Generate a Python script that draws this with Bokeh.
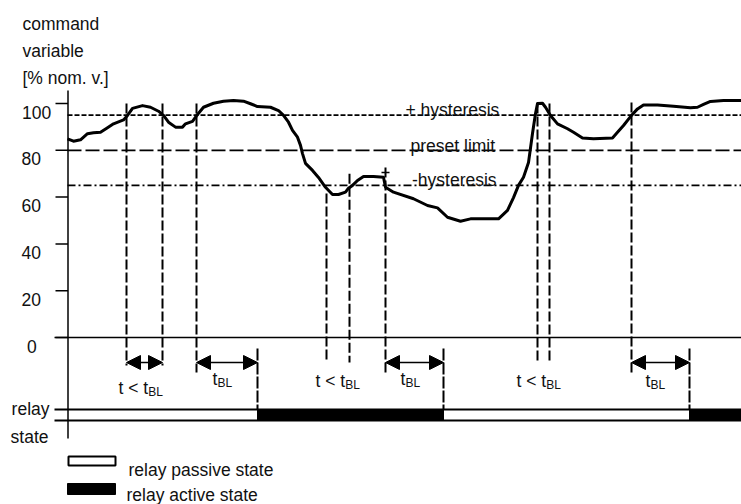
from bokeh.plotting import figure
from bokeh.models import Range1d, Arrow, NormalHead
from bokeh.core.properties import value
from bokeh.embed import file_html
from bokeh.resources import INLINE

# ---------------- data ----------------
time = [0, 6, 13, 20, 26, 33, 40, 46, 56, 60, 65, 75, 83, 91, 96, 101, 108, 115, 118, 125,
        130, 136, 146, 156, 166, 176, 183, 190, 203, 211, 216, 221, 225, 230, 233, 235, 238,
        245, 251, 258, 265, 271, 278, 281, 285, 290, 296, 306, 316, 318, 326, 346, 360, 370,
        380, 393, 403, 416, 431, 440, 446, 451, 456, 461, 465, 468, 470, 475, 478, 483, 490,
        500, 506, 515, 526, 545, 550, 556, 563, 570, 576, 590, 606, 623, 630, 636, 643, 656, 674]
command = [84.9, 83.9, 84.5, 87.1, 87.5, 87.7, 89.6, 91.3, 93.0, 94.9, 97.9, 99.1, 98.4, 96.7,
           94.9, 92.0, 89.9, 89.9, 91.3, 92.4, 95.3, 98.4, 100.1, 101.0, 101.3, 101.0, 99.9,
           98.7, 98.4, 97.0, 94.9, 92.0, 88.5, 85.6, 82.1, 78.6, 74.4, 71.4, 68.4, 64.2, 61.1,
           61.1, 62.1, 63.8, 65.0, 67.1, 68.8, 68.8, 68.5, 64.2, 62.1, 59.3, 56.4, 55.4, 51.4,
           49.7, 50.7, 50.7, 50.7, 54.3, 59.8, 65.0, 68.5, 74.8, 87.2, 95.7, 100.0, 100.1, 98.4,
           94.9, 91.3, 89.2, 87.7, 85.3, 84.9, 85.3, 87.7, 90.6, 94.4, 97.7, 99.4, 99.4, 98.8,
           98.2, 98.4, 99.6, 100.9, 101.3, 101.3]

plus_hysteresis = 95
preset_limit = 80
minus_hysteresis = 65
y_ticks = [0, 20, 40, 60, 80, 100]
y_tick_labels = ["0", "20", "40", "60", "80", "100"]

# threshold crossings (vertical marker lines)
event_t = [59, 95, 129, 259, 282, 318, 470, 482, 564]
event_top = [100, 100, 100, 61.5, 70, 72.6, 100, 100, 100.4]
event_bottom = [-12, -12, -15, -9.8, -10.7, -15.4, -10.7, -10.7, -15]

# relay switching times and states (0 = passive, 1 = active)
relay_t = [0, 190, 376, 622, 674]
relay_state = [0, 1, 0, 1]

# blocking-time intervals with arrows
arrow_start = [59, 129, 318, 564]
arrow_end = [95, 190, 376, 622]

# interval labels
int_label_main = ["t < t", "t", "t < t", "t", "t < t", "t"]
int_label_sub = ["BL", "BL", "BL", "BL", "BL", "BL"]
int_label_x = [51, 145, 248, 333, 449, 578]

# ---------------- layout helpers (canvas px -> data) ----------------
W, H = 741, 504
X0, Y0, K = 67.0, 337.0, 2.34
def tx(px):
    return px - X0
def vy(py):
    return (Y0 - py) / K

FONT = value("Liberation Sans")
FS = "17.5px"
SUB = "12px"
TXT = "#111111"
INK = "#000000"

p = figure(width=W, height=H, output_backend="svg", toolbar_location=None,
           x_range=Range1d(tx(0), tx(W)), y_range=Range1d(vy(H), vy(0)),
           x_axis_location=None, y_axis_location=None,
           min_border_left=0, min_border_right=0, min_border_top=0, min_border_bottom=0)
p.outline_line_color = None
p.grid.visible = False
p.background_fill_color = "white"
p.border_fill_color = "white"

# vertical axis line and ticks
p.segment(x0=[0.5], y0=[vy(90)], x1=[0.5], y1=[vy(438)], line_color=INK, line_width=1.5)
p.segment(x0=[tx(55)] * len(y_ticks), y0=y_ticks, x1=[0.5] * len(y_ticks), y1=y_ticks,
          line_color=INK, line_width=1.5)
# tick labels
tick_x = [tx(26.5), tx(21), tx(21), tx(21), tx(21), tx(21.5)]
p.text(x=tick_x, y=[v - 8.5 / K for v in y_ticks], text=y_tick_labels, text_font=FONT,
       text_font_size=FS, text_color=TXT, text_baseline="alphabetic", text_align="left")

# zero line
p.line(x=[tx(54), time[-1]], y=[0, 0], line_color=INK, line_width=1.3)

# threshold lines
p.line(x=[0, time[-1]], y=[plus_hysteresis] * 2, line_color=INK, line_width=1.8, line_dash="5 2")
p.line(x=[0, time[-1]], y=[preset_limit] * 2, line_color=INK, line_width=1.8, line_dash="14 4")
p.line(x=[0, time[-1]], y=[minus_hysteresis] * 2, line_color=INK, line_width=1.8, line_dash="8 3 2 3")

# event marker lines
p.segment(x0=event_t, y0=event_top, x1=event_t, y1=event_bottom,
          line_color=INK, line_width=2, line_dash="10 3")
# small cross mark on the -hysteresis release line
p.segment(x0=[event_t[5] - 4], y0=[vy(172)], x1=[event_t[5] + 4], y1=[vy(172)],
          line_color=INK, line_width=1.5)

# relay switching lines
sw = relay_t[1:-1]
p.segment(x0=sw, y0=[vy(348)] * len(sw), x1=sw, y1=[vy(409)] * len(sw),
          line_color=INK, line_width=2, line_dash="12 2")

# command variable curve
p.line(x=time, y=command, line_color=INK, line_width=3, line_join="round")

# relay state bar
bar_top, bar_bot = vy(409), vy(420)
act_l = [relay_t[i] for i, s in enumerate(relay_state) if s == 1]
act_r = [relay_t[i + 1] for i, s in enumerate(relay_state) if s == 1]
p.quad(left=act_l, right=act_r, top=[bar_top] * len(act_l), bottom=[bar_bot] * len(act_l),
       fill_color=INK, line_color=INK)
p.line(x=[tx(54), relay_t[-1]], y=[bar_top] * 2, line_color=INK, line_width=2)
p.line(x=[tx(54), relay_t[-1]], y=[bar_bot] * 2, line_color=INK, line_width=2)

# arrows
for a, b in zip(arrow_start, arrow_end):
    p.add_layout(Arrow(x_start=a, y_start=vy(362), x_end=b, y_end=vy(362),
                       start=NormalHead(size=14, fill_color=INK, line_color=INK, line_width=1),
                       end=NormalHead(size=14, fill_color=INK, line_color=INK, line_width=1),
                       line_color=INK, line_width=1.5))

# interval labels
base = [vy(387), vy(378), vy(380), vy(378), vy(380), vy(380)]
main_w = {"t < t": 29.7, "t": 4.9}
p.text(x=int_label_x, y=base, text=int_label_main, text_font=FONT, text_font_size=FS,
       text_color=TXT, text_baseline="alphabetic", text_align="left")
p.text(x=[x + main_w[m] for x, m in zip(int_label_x, int_label_main)],
       y=[b - 4 / K for b in base], text=int_label_sub, text_font=FONT, text_font_size=SUB,
       text_color=TXT, text_baseline="alphabetic", text_align="left")

# threshold labels
p.text(x=[tx(405), tx(410), tx(411.5)], y=[vy(109), vy(145), vy(179)],
       text=["+ hysteresis", "preset limit", "-hysteresis"], text_font=FONT,
       text_font_size=FS, text_color=TXT, text_baseline="alphabetic", text_align="left")

# legend
p.quad(left=[tx(68)], right=[tx(115)], top=[vy(456)], bottom=[vy(465)],
       fill_color="white", line_color=INK, line_width=2)
p.quad(left=[tx(67)], right=[tx(115)], top=[vy(483)], bottom=[vy(494)],
       fill_color=INK, line_color=INK)
p.text(x=[tx(128), tx(126)], y=[vy(469), vy(494)],
       text=["relay passive state", "relay active state"], text_font=FONT,
       text_font_size=FS, text_color=TXT, text_baseline="alphabetic", text_align="left")

# axis title and relay state label
p.text(x=[tx(22), tx(22), tx(22)], y=[vy(23), vy(50), vy(77)],
       text=["command", "variable", "[% nom. v.]"], text_font=FONT, text_font_size=FS,
       text_color=TXT, text_baseline="alphabetic", text_align="left")
p.text(x=[tx(49), tx(48)], y=[vy(408), vy(436)], text=["relay", "state"], text_font=FONT,
       text_font_size=FS, text_color=TXT, text_baseline="alphabetic", text_align="right")

open("out.html", "w").write(file_html(p, INLINE))
